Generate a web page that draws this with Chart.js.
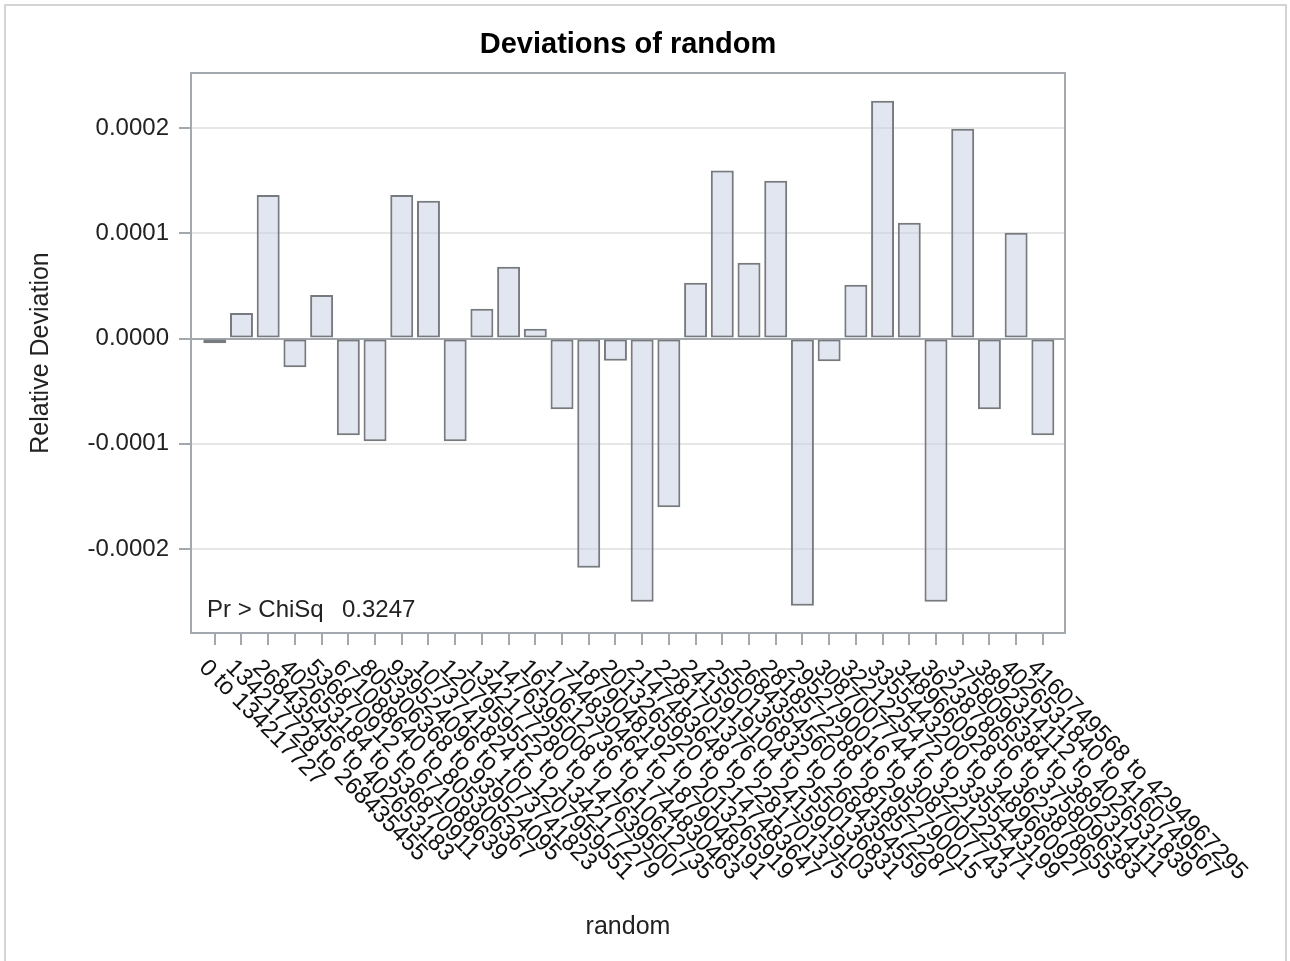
<!DOCTYPE html>
<html>
<head>
<meta charset="utf-8">
<title>Deviations of random</title>
<script src="https://cdn.jsdelivr.net/npm/chart.js@4.4.1/dist/chart.umd.min.js"></script>
<style>
  html, body { margin: 0; padding: 0; background: #fff; }
  #wrap { position: relative; width: 1290px; height: 961px; overflow: hidden; }
  #frame { position: absolute; left: 4px; top: 4px; width: 1279px; height: 980px; border: 2px solid #d4d4d4; }
  #chart { position: absolute; left: 0; top: 0; }
</style>
</head>
<body>
<div id="wrap">
  <div id="frame"></div>
  <canvas id="chart" width="1290" height="961"></canvas>
</div>
<script>
// bins of the "random" variable
const binLabels = [
    '0 to 134217727',
    '134217728 to 268435455',
    '268435456 to 402653183',
    '402653184 to 536870911',
    '536870912 to 671088639',
    '671088640 to 805306367',
    '805306368 to 939524095',
    '939524096 to 1073741823',
    '1073741824 to 1207959551',
    '1207959552 to 1342177279',
    '1342177280 to 1476395007',
    '1476395008 to 1610612735',
    '1610612736 to 1744830463',
    '1744830464 to 1879048191',
    '1879048192 to 2013265919',
    '2013265920 to 2147483647',
    '2147483648 to 2281701375',
    '2281701376 to 2415919103',
    '2415919104 to 2550136831',
    '2550136832 to 2684354559',
    '2684354560 to 2818572287',
    '2818572288 to 2952790015',
    '2952790016 to 3087007743',
    '3087007744 to 3221225471',
    '3221225472 to 3355443199',
    '3355443200 to 3489660927',
    '3489660928 to 3623878655',
    '3623878656 to 3758096383',
    '3758096384 to 3892314111',
    '3892314112 to 4026531839',
    '4026531840 to 4160749567',
    '4160749568 to 4294967295'
];

// relative deviation per bin
const relDeviation = [
    -0.0000044, 0.0000242, 0.0001364, -0.0000272, 0.0000413, -0.0000919, -0.0000976, 0.0001364,
    0.0001310, -0.0000976, 0.0000282, 0.0000682, 0.0000092, -0.0000672, -0.0002178, -0.0000212,
    -0.0002501, -0.0001604, 0.0000530, 0.0001598, 0.0000720, 0.0001500, -0.0002539, -0.0000215,
    0.0000511, 0.0002260, 0.0001100, -0.0002501, 0.0001994, -0.0000672, 0.0001005, -0.0000919
];

const yRange = [-0.0002799, 0.0002524];
const yStep = 0.0001;
const xRange = [-0.89, 31.83];

const titleText = 'Deviations of random';
const chiSqLabel = 'Pr > ChiSq';
const chiSqValue = '0.3247';

const FONT = '"Liberation Sans", Arial, Helvetica, sans-serif';
const AXIS_GRAY = '#a2a8ae';
const GRID_GRAY = '#e6e6e6';

const decorPlugin = {
    id: 'decor',
    afterDraw(chart) {
        const ctx = chart.ctx;
        const area = chart.chartArea;
        const xs = chart.scales.x;

        ctx.save();
        // plot frame
        ctx.strokeStyle = AXIS_GRAY;
        ctx.lineWidth = 2;
        ctx.strokeRect(area.left, area.top, area.right - area.left, area.bottom - area.top);

        // title centred over the plot area
        ctx.fillStyle = '#000';
        ctx.font = 'bold 29px ' + FONT;
        ctx.textAlign = 'center';
        ctx.textBaseline = 'alphabetic';
        ctx.fillText(titleText, (area.left + area.right) / 2, 53);

        // inset statistic
        ctx.font = '24px ' + FONT;
        ctx.fillStyle = '#222';
        ctx.textAlign = 'left';
        ctx.fillText(chiSqLabel, area.left + 16, area.bottom - 16);
        ctx.fillText(chiSqValue, area.left + 151, area.bottom - 16);

        // slanted category labels
        ctx.textBaseline = 'middle';
        ctx.fillStyle = '#111';
        binLabels.forEach((lbl, i) => {
            const px = xs.getPixelForValue(i);
            ctx.save();
            ctx.translate(px - 12, xs.top + 31);
            ctx.rotate(Math.PI / 4);
            ctx.fillText(lbl, 0, 0);
            ctx.restore();
        });
        ctx.restore();
    }
};

const ctx = document.getElementById('chart').getContext('2d');
new Chart(ctx, {
    type: 'bar',
    data: {
        datasets: [{
            label: 'Relative Deviation',
            data: relDeviation.map((v, i) => ({ x: i, y: v })),
            backgroundColor: 'rgba(195, 205, 225, 0.5)',
            borderColor: '#777a7e',
            borderWidth: 2,
            borderSkipped: false,
            categoryPercentage: 1,
            barPercentage: 0.86
        }]
    },
    options: {
        responsive: false,
        animation: false,
        devicePixelRatio: 1,
        layout: { padding: { left: 0, right: 225, top: 73, bottom: 0 } },
        plugins: {
            legend: { display: false },
            tooltip: { enabled: false },
            title: { display: false }
        },
        scales: {
            x: {
                type: 'linear',
                position: 'bottom',
                min: xRange[0],
                max: xRange[1],
                offset: false,
                ticks: { display: false, stepSize: 1, includeBounds: false },
                grid: {
                    drawOnChartArea: false,
                    drawTicks: true,
                    tickLength: 12,
                    tickColor: AXIS_GRAY,
                    lineWidth: 2,
                    offset: false
                },
                border: { display: false },
                title: {
                    display: true,
                    text: 'random',
                    color: '#222',
                    font: { family: FONT, size: 25 },
                    padding: { top: 0, bottom: 19 }
                },
                afterFit: scale => { scale.height = 328; }
            },
            y: {
                min: yRange[0],
                max: yRange[1],
                ticks: {
                    stepSize: yStep,
                    includeBounds: false,
                    padding: 10,
                    color: '#222',
                    font: { family: FONT, size: 24 },
                    callback: v => Number(v).toFixed(4)
                },
                grid: {
                    color: c => (c.tick && c.tick.value === 0 ? AXIS_GRAY : GRID_GRAY),
                    lineWidth: 2,
                    tickLength: 12,
                    tickColor: AXIS_GRAY
                },
                border: { display: false },
                title: {
                    display: true,
                    text: 'Relative Deviation',
                    color: '#222',
                    font: { family: FONT, size: 25 },
                    padding: { top: 26, bottom: 0 }
                },
                afterFit: scale => { scale.width = 191; }
            }
        }
    },
    plugins: [decorPlugin]
});
</script>
</body>
</html>
